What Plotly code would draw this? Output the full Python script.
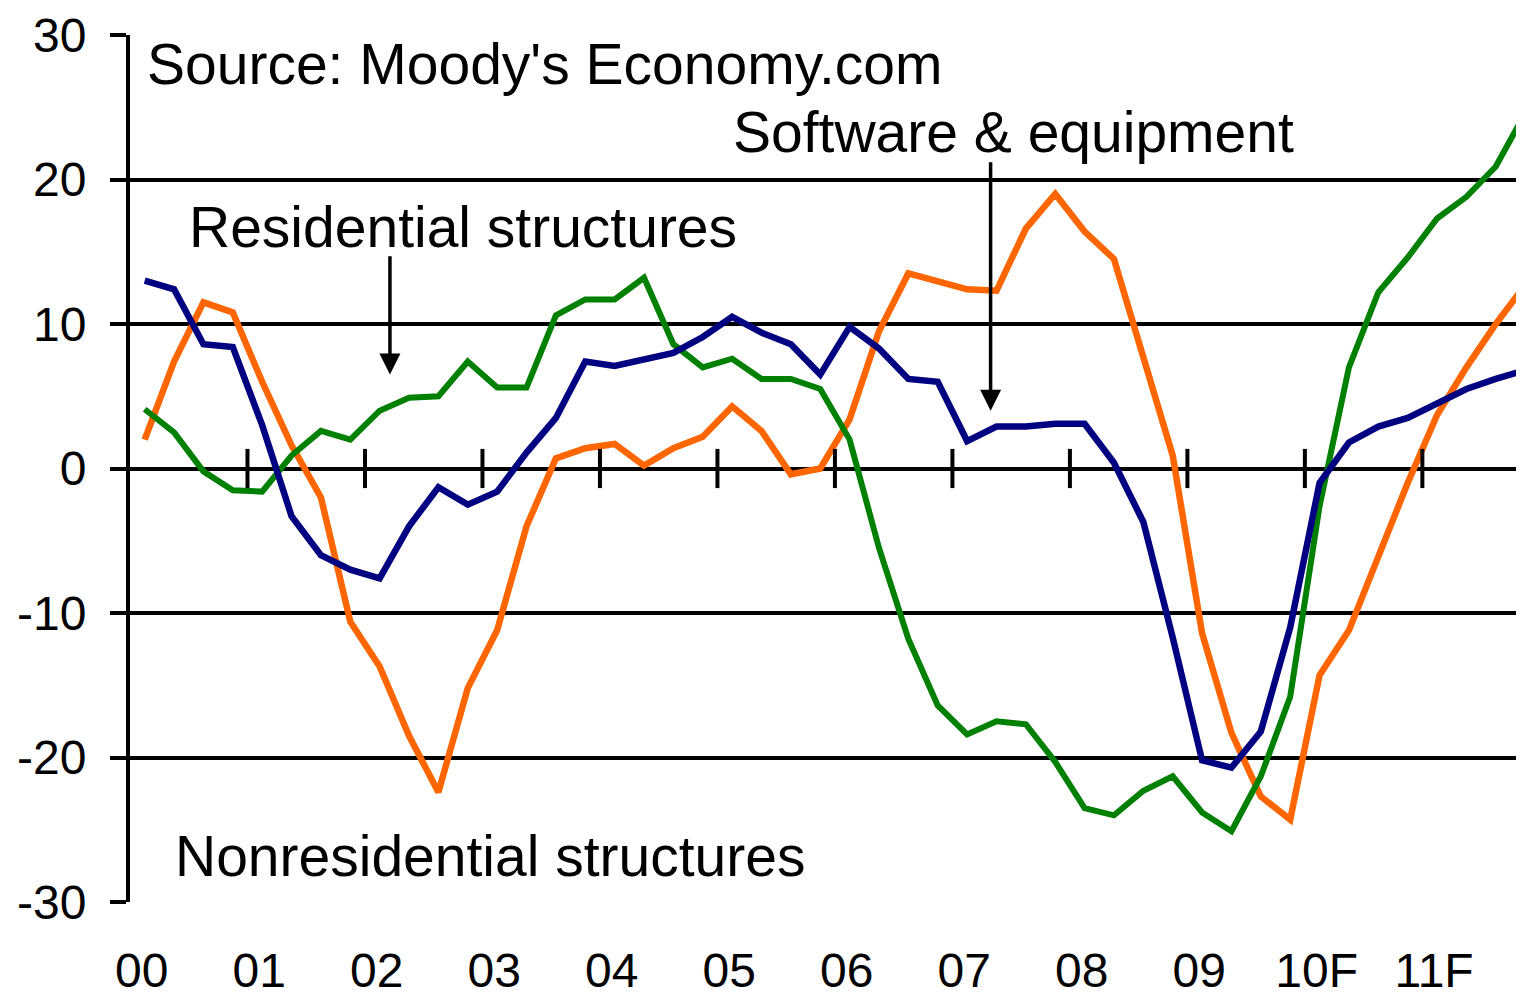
import plotly.graph_objects as go

# Quarterly % change yr ago, 2000Q1 .. 2011Q4 (forecast from 2010)
years = ["00", "01", "02", "03", "04", "05", "06", "07", "08", "09", "10F", "11F"]
y_ticks = [-30, -20, -10, 0, 10, 20, 30]
y_labels = ["-30", "-20", "-10", "0", "10", "20", "30"]

software_equipment = [13.0, 12.4, 8.6, 8.4, 3.0, -3.3, -6.0, -7.0, -7.6, -4.0, -1.3, -2.5,
                      -1.6, 1.1, 3.5, 7.4, 7.1, 7.5, 8.0, 9.1, 10.5, 9.4, 8.6, 6.5,
                      9.8, 8.3, 6.2, 6.0, 1.9, 2.9, 2.9, 3.1, 3.1, 0.4, -3.7, -11.7,
                      -20.2, -20.7, -18.2, -11.0, -1.0, 1.8, 2.9, 3.5, 4.5, 5.5, 6.2, 6.8]

nonresidential = [2.0, 7.4, 11.5, 10.8, 6.0, 1.6, -2.0, -10.6, -13.7, -18.5, -22.4, -15.2,
                  -11.2, -4.0, 0.7, 1.4, 1.7, 0.2, 1.4, 2.2, 4.3, 2.6, -0.4, 0.0,
                  3.4, 9.5, 13.5, 13.0, 12.4, 12.3, 16.6, 19.0, 16.4, 14.5, 7.5, 0.9,
                  -11.4, -18.3, -22.7, -24.3, -14.3, -11.2, -6.1, -1.0, 3.7, 7.0, 10.0, 12.7]

residential = [4.1, 2.5, -0.2, -1.5, -1.6, 0.9, 2.6, 2.0, 4.0, 4.9, 5.0, 7.4,
               5.6, 5.6, 10.6, 11.7, 11.7, 13.2, 8.6, 7.0, 7.6, 6.2, 6.2, 5.5,
               2.0, -5.5, -11.8, -16.4, -18.4, -17.5, -17.7, -20.3, -23.5, -24.0, -22.3, -21.3,
               -23.8, -25.1, -21.3, -15.8, -2.6, 7.0, 12.2, 14.6, 17.3, 18.8, 20.9, 24.6]

quarters = list(range(len(software_equipment)))
year_bounds = [4 * i - 0.5 for i in range(1, len(years))]
label_pos = [4 * i - 0.1 for i in range(len(years))]

font_name = "Liberation Sans, Arial, sans-serif"

fig = go.Figure()

fig.add_trace(go.Scatter(x=quarters, y=nonresidential, mode="lines",
                         line=dict(color="#FF6600", width=6.5), hoverinfo="skip"))
fig.add_trace(go.Scatter(x=quarters, y=residential, mode="lines",
                         line=dict(color="#008000", width=6), hoverinfo="skip"))
fig.add_trace(go.Scatter(x=quarters, y=software_equipment, mode="lines",
                         line=dict(color="#000080", width=6.5), hoverinfo="skip"))

# small year ticks sitting on the zero line
fig.add_trace(go.Scatter(x=year_bounds, y=[0] * len(year_bounds), mode="markers",
                         marker=dict(symbol="line-ns", size=28,
                                     line=dict(color="black", width=4)),
                         hoverinfo="skip"))

txt = dict(family=font_name, size=57, color="black")
fig.add_annotation(x=0.0, y=28.0, text="Source: Moody's Economy.com", showarrow=False,
                   xanchor="left", yanchor="middle", font=txt)
fig.add_annotation(x=19.95, y=23.3, text="Software & equipment", showarrow=False,
                   xanchor="left", yanchor="middle", font=txt)
fig.add_annotation(x=1.45, y=16.7, text="Residential structures", showarrow=False,
                   xanchor="left", yanchor="middle", font=txt)
fig.add_annotation(x=0.95, y=-26.8, text="Nonresidential structures", showarrow=False,
                   xanchor="left", yanchor="middle", font=txt)

# arrows from labels down to the lines
arrow = dict(text="", showarrow=True, arrowhead=2, arrowsize=1.2, arrowwidth=3.5,
             arrowcolor="black", axref="x", ayref="y")
fig.add_annotation(x=8.35, y=6.5, ax=8.35, ay=14.8, **arrow)
fig.add_annotation(x=28.8, y=4.0, ax=28.8, ay=21.3, **arrow)

# page body adds 8px on the top/left, so the figure is sized to fit the window
fig.update_layout(
    width=1516, height=990,
    margin=dict(l=122, r=0, t=27, b=96),
    plot_bgcolor="white", paper_bgcolor="white",
    showlegend=False,
    font=dict(family=font_name, color="black"),
)

fig.update_xaxes(range=[-0.5, 46.96], showgrid=False, zeroline=False, showline=False,
                 tickmode="array", tickvals=label_pos, ticktext=years,
                 ticks="", ticklabelstandoff=36, automargin=False,
                 tickfont=dict(family=font_name, size=48, color="black"))

fig.update_yaxes(range=[-30, 30], tickmode="array", tickvals=y_ticks, ticktext=y_labels,
                 showgrid=True, gridcolor="black", gridwidth=4,
                 zeroline=False, showline=True, linecolor="black", linewidth=4,
                 ticks="outside", ticklen=16, tickwidth=4, tickcolor="black",
                 ticklabelstandoff=14, automargin=False,
                 tickfont=dict(family=font_name, size=48, color="black"))

fig.write_html("out.html")
